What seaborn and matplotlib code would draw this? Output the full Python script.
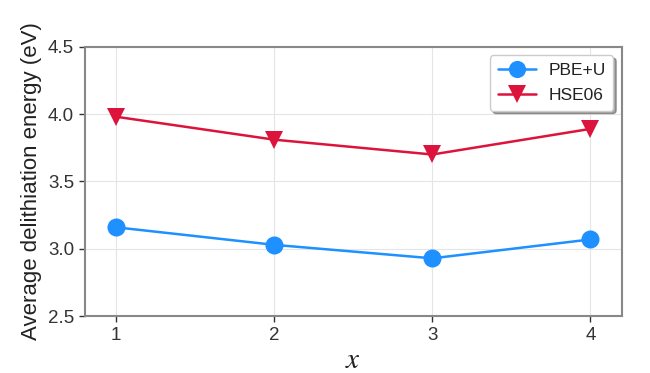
import matplotlib
matplotlib.use("Agg")
import matplotlib.pyplot as plt
import seaborn as sns
import pandas as pd

x_vals = [1, 2, 3, 4]
pbe_u = [3.16, 3.03, 2.93, 3.07]
hse06 = [3.98, 3.81, 3.70, 3.89]
series_names = ["PBE+U", "HSE06"]

sns.set_theme(style="whitegrid")
plt.rcParams['font.family'] = ['Arial', 'Liberation Sans', 'DejaVu Sans']
plt.rcParams['mathtext.fontset'] = 'stix'

df = pd.DataFrame({
    "x": x_vals * 2,
    "E": pbe_u + hse06,
    "method": [series_names[0]] * 4 + [series_names[1]] * 4,
})

fig, ax = plt.subplots(figsize=(6.5, 3.73), dpi=100)
sns.lineplot(data=df, x="x", y="E", hue="method", style="method",
             palette={"PBE+U": "#1e90ff", "HSE06": "#dc143c"},
             markers={"PBE+U": "o", "HSE06": "v"}, dashes=False,
             markersize=13, linewidth=1.8, markeredgewidth=0, ax=ax)

ax.set_xlim(0.8, 4.2)
ax.set_ylim(2.5, 4.5)
ax.set_xticks(x_vals)
ax.set_yticks([2.5, 3.0, 3.5, 4.0, 4.5])
ax.set_yticklabels(["2.5", "3.0", "3.5", "4.0", "4.5"])
ax.tick_params(axis='both', labelsize=13.5, colors='#333333', length=4, width=1, left=True, bottom=True)
ax.grid(True, color='#e5e5e5', linewidth=0.8)
for s in ax.spines.values():
    s.set_color('#888888')
    s.set_linewidth(1.5)

ax.set_xlabel("$x$", fontsize=21, color='#222222', labelpad=2)
ax.set_ylabel("Average delithiation energy (eV)", fontsize=16, color='#222222', labelpad=4)

leg = ax.legend(loc='upper right', fontsize=12.5, frameon=True, shadow=True,
                handlelength=2.2, borderpad=0.45, labelspacing=0.55,
                handletextpad=0.7, borderaxespad=0.5, framealpha=1,
                markerscale=0.95)
leg.get_frame().set_edgecolor('#cccccc')
for t in leg.get_texts():
    t.set_color('#222222')

fig.subplots_adjust(left=0.13, right=0.957, top=0.875, bottom=0.152)
fig.savefig("out.png", dpi=100)
